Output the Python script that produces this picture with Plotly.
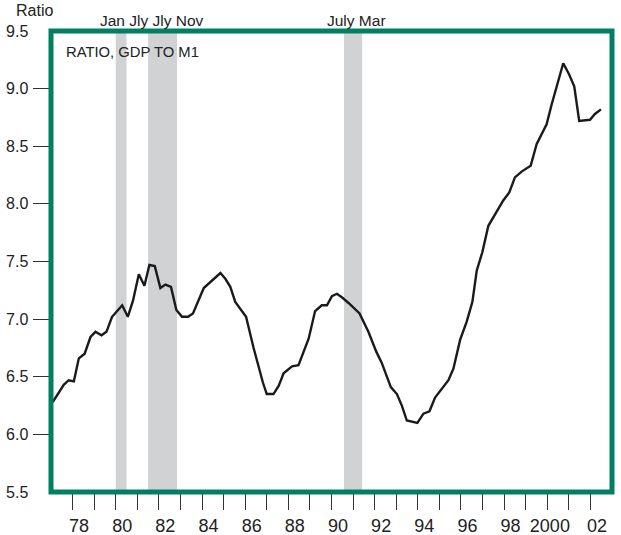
import plotly.graph_objects as go

years = [1977.08, 1977.36, 1977.59, 1977.82, 1978.06, 1978.29, 1978.56, 1978.83, 1979.06, 1979.34,
         1979.57, 1979.83, 1980.30, 1980.56, 1980.80, 1981.07, 1981.33, 1981.56, 1981.81, 1982.07,
         1982.30, 1982.56, 1982.81, 1983.07, 1983.35, 1983.58, 1984.08, 1984.85, 1985.08, 1985.31,
         1985.54, 1986.04, 1986.39, 1986.82, 1987.00, 1987.31, 1987.55, 1987.78, 1988.17, 1988.47,
         1988.94, 1989.24, 1989.55, 1989.79, 1990.02, 1990.25, 1990.48, 1990.79, 1991.30, 1991.71,
         1992.07, 1992.33, 1992.75, 1993.03, 1993.26, 1993.49, 1993.72, 1993.98, 1994.26, 1994.54,
         1994.80, 1995.11, 1995.42, 1995.65, 1995.96, 1996.27, 1996.53, 1996.73, 1996.99, 1997.27,
         1997.58, 1997.96, 1998.24, 1998.50, 1998.81, 1999.23, 1999.51, 1999.97, 2000.20, 2000.74,
         2001.02, 2001.25, 2001.48, 2001.98, 2002.21, 2002.49]
ratio = [6.28, 6.36, 6.43, 6.47, 6.46, 6.66, 6.70, 6.845, 6.89, 6.86,
         6.89, 7.02, 7.12, 7.02, 7.16, 7.39, 7.29, 7.47, 7.46, 7.27,
         7.30, 7.28, 7.08, 7.02, 7.02, 7.05, 7.27, 7.40, 7.35, 7.28,
         7.15, 7.02, 6.75, 6.45, 6.35, 6.35, 6.42, 6.53, 6.59, 6.60,
         6.83, 7.07, 7.12, 7.12, 7.20, 7.22, 7.19, 7.14, 7.05, 6.89,
         6.72, 6.62, 6.41, 6.35, 6.25, 6.12, 6.11, 6.10, 6.18, 6.20,
         6.32, 6.40, 6.47, 6.57, 6.82, 6.98, 7.15, 7.42, 7.58, 7.81,
         7.91, 8.03, 8.10, 8.23, 8.28, 8.33, 8.52, 8.69, 8.86, 9.22,
         9.12, 9.02, 8.72, 8.73, 8.78, 8.82]

rec_start = [1980.0, 1981.5, 1990.58]
rec_end = [1980.5, 1982.84, 1991.42]

y_ticks = [5.5, 6.0, 6.5, 7.0, 7.5, 8.0, 8.5, 9.0, 9.5]
y_labels = ["5.5", "6.0", "6.5", "7.0", "7.5", "8.0", "8.5", "9.0", "9.5"]
y_marked = [6.0, 6.5, 7.0, 7.5, 8.0, 8.5, 9.0]
x_tick_years = list(range(1978, 2003))
x_label_years = [1978, 1980, 1982, 1984, 1986, 1988, 1990, 1992, 1994, 1996, 1998, 2000, 2002]
x_labels = ["78", "80", "82", "84", "86", "88", "90", "92", "94", "96", "98", "2000", "02"]

XR = [1977.0, 2003.0]
YR = [5.5, 9.5]
GREEN = "#007f62"
FONT = "Liberation Sans"
TXT = "#222222"

fig = go.Figure()
fig.add_trace(go.Scatter(x=years, y=ratio, mode="lines",
                         line=dict(color="#1a1a1a", width=2.4), showlegend=False,
                         hoverinfo="skip"))
# invisible trace so the secondary axes are drawn
fig.add_trace(go.Scatter(x=[XR[0]], y=[YR[0]], xaxis="x2", yaxis="y2", mode="markers",
                         marker=dict(opacity=0), showlegend=False, hoverinfo="skip"))

shapes = []
for s, e in zip(rec_start, rec_end):
    shapes.append(dict(type="rect", xref="x", yref="paper", x0=s, x1=e, y0=0, y1=1,
                       fillcolor="#d1d2d4", line=dict(width=0), layer="below"))
shapes.append(dict(type="rect", xref="paper", yref="paper", x0=0, x1=1, y0=0, y1=1,
                   line=dict(color=GREEN, width=5), layer="above"))

label_pos = [y + (0.12 if len(t) == 4 else 0.3) for y, t in zip(x_label_years, x_labels)]

fig.update_layout(
    width=621, height=535,
    margin=dict(l=50.5, r=8.5, t=31, b=43, autoexpand=False),
    paper_bgcolor="white", plot_bgcolor="white",
    font=dict(family=FONT, color=TXT, size=16),
    shapes=shapes,
    xaxis=dict(range=XR, tickvals=x_tick_years, ticks="outside", ticklen=17,
               tickcolor="#333333", tickwidth=1, showticklabels=False, automargin=False,
               showgrid=False, zeroline=False, showline=False),
    xaxis2=dict(range=XR, overlaying="x", side="bottom", tickvals=label_pos,
                ticktext=x_labels, ticks="outside", ticklen=17.5, tickcolor="rgba(0,0,0,0)",
                showgrid=False, zeroline=False, showline=False, automargin=False,
                tickfont=dict(size=18, family=FONT, color=TXT)),
    yaxis=dict(range=YR, tickvals=y_ticks, ticktext=y_labels, ticks="outside", ticklen=18.5,
               tickcolor="rgba(0,0,0,0)", showgrid=False, zeroline=False, showline=False,
               automargin=False,
               tickfont=dict(size=16, family=FONT, color=TXT)),
    yaxis2=dict(range=YR, overlaying="y", side="left", tickvals=y_marked, ticks="outside",
                ticklen=17, tickcolor="#333333", tickwidth=1, showticklabels=False,
                automargin=False,
                showgrid=False, zeroline=False, showline=False),
    annotations=[
        dict(text="Ratio", xref="paper", yref="paper", x=-0.0667, y=1 + 31 / 461,
             xanchor="left", yanchor="top", showarrow=False,
             font=dict(size=16, family=FONT, color=TXT)),
        dict(text="Jan Jly Jly Nov", xref="x", yref="paper", x=1979.2, y=1,
             xanchor="left", yanchor="bottom", yshift=0, showarrow=False,
             font=dict(size=15.5, family=FONT, color=TXT)),
        dict(text="July Mar", xref="x", yref="paper", x=1989.68, y=1,
             xanchor="left", yanchor="bottom", yshift=0, showarrow=False,
             font=dict(size=15.5, family=FONT, color=TXT)),
        dict(text="RATIO, GDP TO M1", xref="x", yref="y", x=1977.62, y=9.32,
             xanchor="left", yanchor="middle", showarrow=False,
             font=dict(size=14.8, family=FONT, color=TXT)),
    ],
)

# remove the default 8px page margin so the figure sits at the window's top-left corner
fig.write_html("out.html", config={"displayModeBar": False},
               post_script="document.body.style.margin='0';")
